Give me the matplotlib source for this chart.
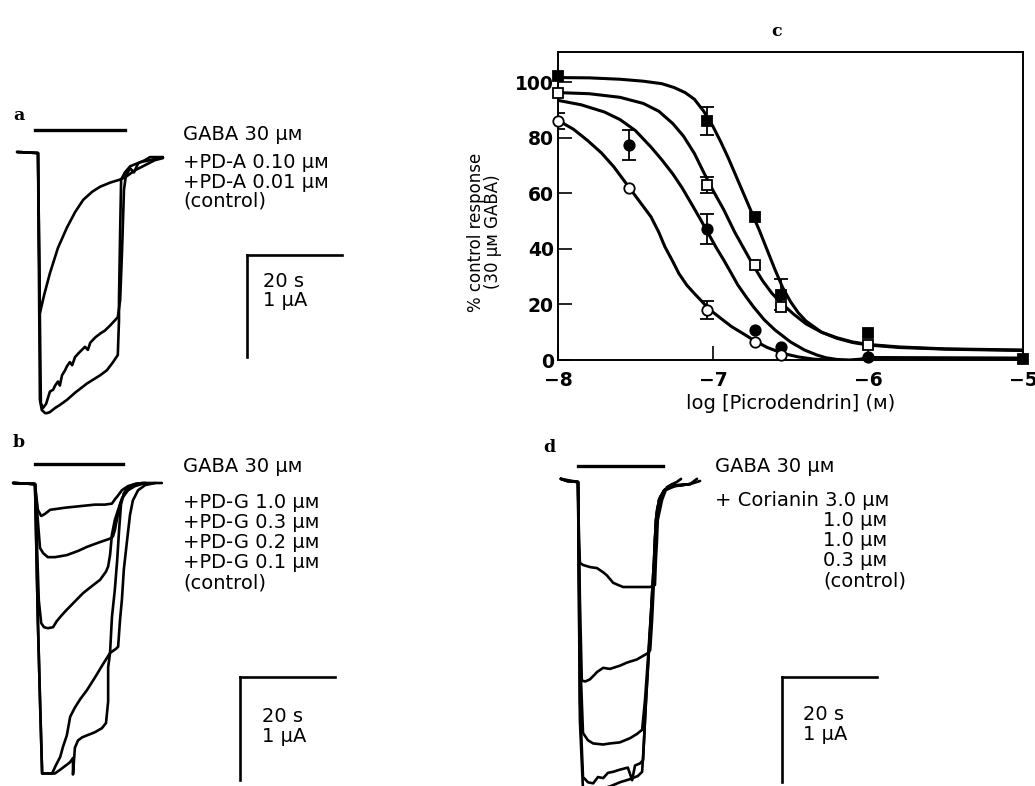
import matplotlib
matplotlib.use('Agg')
import matplotlib.pyplot as plt
import numpy as np

plt.rcParams['font.family'] = ['DejaVu Sans']

W, H = 1035, 786
UM = 'μᴍ'

# ---------------- panel c : dose-response (log M, % control) ----------------
fsq_x = [-8.0, -7.04, -6.73, -6.56, -6.0, -5.0]
fsq_y = [102, 86, 51.5, 23.5, 9.6, 0.3]
fsq_e = [0, 5, 0, 5.5, 0, 0]

osq_x = [-8.0, -7.04, -6.73, -6.56, -6.0]
osq_y = [96, 63, 34, 19, 5.4]
osq_e = [0, 2.8, 0, 0, 0]

fci_x = [-7.54, -7.04, -6.73, -6.56, -6.0]
fci_y = [77.5, 47, 10.7, 4.6, 1.0]
fci_e = [5.4, 5.4, 0, 0, 0]

oci_x = [-8.0, -7.54, -7.04, -6.73, -6.56]
oci_y = [86, 62, 18, 6.6, 1.8]
oci_e = [3, 0, 3.2, 0, 0]

# fitted curves
fit_fsq_x = [-8, -7.8, -7.6, -7.45, -7.33, -7.25, -7.18, -7.12, -7.06, -7.0, -6.95, -6.9, -6.85,
             -6.8, -6.75, -6.7, -6.65, -6.6, -6.55, -6.5, -6.45, -6.4, -6.3, -6.2, -6.1, -6.0,
             -5.8, -5.5, -5.2, -5.0]
fit_fsq_y = [101.6, 101.5, 101.0, 100.3, 99.4, 98.0, 96.2, 93.8, 89.5, 84, 78.5, 72.5, 66,
             59.5, 53, 46.5, 39.5, 32.5, 26, 21, 17, 14, 10, 7.8, 6.3, 5.4,
             4.5, 3.9, 3.6, 3.4]
fit_osq_x = [-8, -7.8, -7.6, -7.45, -7.35, -7.26, -7.19, -7.12, -7.06, -7.0, -6.93, -6.86, -6.8,
             -6.74, -6.68, -6.62, -6.55, -6.48, -6.4, -6.3, -6.2, -6.1, -6.0, -5.8, -5.5, -5.0]
fit_osq_y = [96.2, 95.8, 94.5, 92.3, 89.5, 85.1, 80.5, 74.3, 67.5, 61, 54, 46, 40,
             34, 28.5, 24, 20, 16.5, 13, 10, 8, 6.5, 5.6, 4.7, 4.0, 3.6]
fit_fci_x = [-8, -7.85, -7.7, -7.6, -7.5, -7.4, -7.33, -7.26, -7.2, -7.14, -7.08, -7.03, -6.98,
             -6.93, -6.88, -6.84, -6.79, -6.74, -6.67, -6.6, -6.5, -6.41, -6.33, -6.27, -6.2,
             -6.12, -6.05, -6.0, -5.5, -5.0]
fit_fci_y = [93.4, 91.8, 89.2, 86.5, 82.5, 76.6, 72, 67, 62, 56.3, 50.5, 45.5, 40.5,
             35.9, 31, 27, 23, 19.2, 14.5, 10.8, 6.5, 3.6, 1.8, 0.8, 0.2,
             0, 0.3, 0.9, 0.8, 0.7]
fit_oci_x = [-8, -7.9, -7.81, -7.72, -7.64, -7.56, -7.48, -7.4, -7.35, -7.31, -7.26, -7.22, -7.17,
             -7.12, -7.07, -7.03, -6.95, -6.88, -6.8, -6.74, -6.65, -6.55, -6.45, -6.35, -6.25]
fit_oci_y = [86.2, 83, 79, 74.5, 69.5, 63.5, 57.5, 51.5, 46, 40.7, 35.5, 31.1, 27,
             23.9, 21, 18.5, 15, 12, 9.3, 7.2, 4.5, 2.4, 1.1, 0.3, 0]

# ---------------- panel a : PD-A traces (s, uA) ----------------
a_pd010_t = [-4.4, 0, 0.4, 1.3, 2.5, 4.2, 6.1, 7.8, 9.5, 11.4, 13.1, 15.2, 17.3, 18.3, 20.4, 22.5, 24.6, 26.3]
a_pd010_i = [0, -0.01, -1.58, -1.40, -1.19, -0.94, -0.74, -0.59, -0.47, -0.39, -0.34, -0.30, -0.27,
             -0.25, -0.18, -0.13, -0.08, -0.06]
a_pd001_t = [-4.4, 0, 0.6, 1.05, 1.7, 2.1, 2.5, 3.2, 3.6, 4.2, 4.6, 5.05, 5.7, 6.1, 6.7, 7.2, 7.8,
             8.8, 9.9, 10.5, 11.0, 12.0, 13.1, 14.1, 15.2, 16.2, 16.8, 17.3, 17.7, 18.1, 18.5, 19.4,
             20.2, 21.1, 22.5, 23.6, 26.3]
a_pd001_i = [0, -0.01, -2.46, -2.51, -2.47, -2.41, -2.35, -2.33, -2.29, -2.25, -2.29, -2.19, -2.14,
             -2.10, -2.06, -2.09, -2.01, -1.96, -1.91, -1.94, -1.87, -1.82, -1.78, -1.75, -1.70,
             -1.65, -1.62, -1.45, -0.96, -0.37, -0.23, -0.16, -0.20, -0.11, -0.08, -0.05, -0.05]
a_ctrl_t = [-4.4, 0, 0.4, 0.8, 1.5, 1.9, 2.5, 3.6, 4.6, 6.1, 7.8, 10.3, 13.05, 14.5, 15.8, 16.8,
            17.05, 17.05, 17.3, 17.5, 18.3, 19.4, 21.5, 23.6, 26.3]
a_ctrl_i = [0, -0.01, -2.43, -2.53, -2.56, -2.56, -2.55, -2.51, -2.48, -2.43, -2.36, -2.27, -2.19,
            -2.14, -2.06, -1.99, -1.65, -1.45, -0.76, -0.27, -0.20, -0.14, -0.10, -0.08, -0.05]

# ---------------- panel b : PD-G traces ----------------
b_10_t = [-4.6, 0, 0.6, 1.3, 2.1, 3.2, 4.8, 6.3, 8.4, 10.5, 12.6, 14.7, 16.2, 16.8, 17.5, 18.3,
          19.6, 21.05, 22.7, 26.7]
b_10_i = [0, -0.01, -0.26, -0.32, -0.30, -0.26, -0.25, -0.24, -0.23, -0.22, -0.21, -0.21, -0.20,
          -0.16, -0.12, -0.07, -0.03, -0.01, 0, 0]
b_03_t = [-4.6, 0, 1.05, 1.7, 2.7, 4.2, 6.7, 9.05, 10.95, 13.3, 15.8, 16.4, 16.8, 17.3, 17.9,
          18.7, 20.0, 21.5, 23.2]
b_03_i = [0, -0.01, -0.63, -0.68, -0.72, -0.72, -0.70, -0.66, -0.62, -0.58, -0.54, -0.52, -0.46,
          -0.34, -0.21, -0.11, -0.04, -0.01, 0]
b_02_t = [-4.6, 0, 0.8, 1.3, 1.9, 2.7, 3.8, 4.6, 5.7, 6.7, 8.4, 10.1, 12.0, 13.7, 14.95, 15.4,
          15.8, 16.2, 16.8, 17.5, 18.3, 19.6, 21.05, 23.2]
b_02_i = [0, -0.01, -1.14, -1.36, -1.40, -1.41, -1.40, -1.34, -1.28, -1.23, -1.15, -1.07, -1.00,
          -0.94, -0.86, -0.81, -0.70, -0.50, -0.36, -0.26, -0.15, -0.07, -0.03, 0]
b_01_t = [-4.6, 0, 0.6, 1.05, 1.5, 3.6, 4.4, 5.3, 5.9, 6.7, 7.4, 8.4, 9.5, 10.95, 12.6, 14.3,
          15.8, 17.05, 17.5, 17.9, 18.3, 18.7, 19.4, 20.0, 20.6, 21.7, 23.2, 25.3]
b_01_i = [0, -0.01, -1.33, -2.10, -2.82, -2.82, -2.74, -2.66, -2.56, -2.45, -2.27, -2.18, -2.10,
          -2.01, -1.89, -1.76, -1.65, -1.61, -1.59, -1.33, -1.13, -0.84, -0.55, -0.31, -0.17,
          -0.07, -0.02, 0]
b_ctrl_t = [-4.6, 0, 0.6, 1.05, 1.5, 4.2, 5.7, 7.4, 8.0, 8.0, 8.4, 9.05, 9.9, 10.95, 12.6, 14.1,
            14.95, 15.4, 15.4, 15.8, 16.2, 16.8, 17.3, 17.7, 18.1, 18.7, 19.6, 21.05, 22.7]
b_ctrl_i = [0, -0.01, -1.33, -2.10, -2.82, -2.82, -2.77, -2.71, -2.67, -2.83, -2.57, -2.50, -2.47,
            -2.45, -2.42, -2.38, -2.33, -2.12, -1.79, -1.65, -1.30, -1.04, -0.75, -0.46, -0.21,
            -0.10, -0.04, -0.01, 0]

# ---------------- panel d : corianin traces ----------------
d_30_t = [-3.6, -2.3, 0, 0.2, 0.4, 1.05, 2.5, 4.0, 5.3, 6.1, 7.4, 8.4, 9.5, 12.0, 15.2, 16.2,
          16.4, 16.6, 16.8, 17.7, 18.7, 19.8, 20.8, 21.7]
d_30_i = [0.03, 0.01, 0, -0.55, -0.77, -0.79, -0.81, -0.82, -0.86, -0.89, -0.96, -0.98, -1.0,
          -1.0, -1.0, -0.98, -0.74, -0.58, -0.36, -0.17, -0.05, -0.02, 0, 0.03]
d_10a_t = [-3.6, -2.3, 0, 0.4, 0.8, 1.5, 2.5, 3.6, 4.0, 5.3, 6.7, 8.8, 10.3, 12.4, 14.7, 15.2,
           15.6, 16.0, 16.2, 16.6, 17.3, 18.3, 20.4, 23.6, 25.7]
d_10a_i = [0.03, 0.01, 0, -1.12, -1.89, -1.90, -1.88, -1.83, -1.81, -1.77, -1.78, -1.75, -1.72,
           -1.69, -1.63, -1.60, -1.31, -0.93, -0.55, -0.27, -0.14, -0.08, -0.04, -0.02, 0.01]
d_10b_t = [-3.6, -2.3, 0, 0.4, 1.05, 2.1, 3.2, 5.3, 6.7, 8.8, 10.95, 12.4, 13.5, 14.1, 14.7,
           15.4, 16.0, 16.4, 17.05, 18.1, 19.8, 23.6, 25.05]
d_10b_i = [0.03, 0.01, 0, -1.60, -2.39, -2.46, -2.49, -2.50, -2.49, -2.48, -2.44, -2.40, -2.36,
           -2.08, -1.70, -1.22, -0.74, -0.36, -0.17, -0.08, -0.04, -0.02, 0.03]
d_03_t = [-3.6, -2.3, 0, 0.4, 1.05, 2.1, 3.2, 4.2, 5.3, 6.3, 7.4, 8.8, 10.5, 11.4, 12.0, 13.05,
          13.7, 14.1, 14.7, 15.4, 16.0, 16.4, 17.05, 18.1, 19.8, 23.6]
d_03_i = [0.03, 0.01, 0, -2.08, -2.81, -2.86, -2.87, -2.81, -2.82, -2.77, -2.76, -2.74, -2.72,
          -2.84, -2.70, -2.68, -2.65, -2.27, -1.79, -1.22, -0.74, -0.36, -0.17, -0.08, -0.04, -0.02]
d_ctrl_t = [-3.6, 0, 0.4, 1.05, 2.5, 4.6, 6.7, 8.8, 10.95, 12.6, 13.5, 13.9, 14.3, 14.95, 15.6,
            16.2, 16.6, 17.3, 18.3, 20.4, 23.6]
d_ctrl_i = [0.03, 0, -2.27, -2.93, -2.95, -2.92, -2.90, -2.86, -2.83, -2.80, -2.76, -2.46, -2.08,
            -1.60, -1.12, -0.65, -0.31, -0.15, -0.07, -0.03, -0.02]

fig = plt.figure(figsize=(W / 100, H / 100), dpi=100)


def px_axes(left, top, right, bottom):
    return fig.add_axes([left / W, 1 - bottom / H, (right - left) / W, (bottom - top) / H])


def px_text(x, y, s, **kw):
    kw.setdefault('va', 'center')
    kw.setdefault('ha', 'left')
    kw.setdefault('fontsize', 14)
    fig.text(x / W, 1 - y / H, s, **kw)


def trace_axes(left, top, right, bottom, x0, y0, sx, sy):
    # pixel box -> time (s) / current (uA) axes
    ax = px_axes(left, top, right, bottom)
    ax.set_xlim((left - x0) / sx, (right - x0) / sx)
    ax.set_ylim((y0 - bottom) / sy, (y0 - top) / sy)
    ax.axis('off')
    return ax


def draw_panel(ax, traces, bar, scale):
    for t, i in traces:
        ax.plot(t, i, color='black', lw=1.9, solid_joinstyle='round', solid_capstyle='round')
    ax.plot(bar[:2], [bar[2], bar[2]], color='black', lw=2.4)
    sx, sy = scale
    ax.plot([sx, sx + 20], [sy, sy], color='black', lw=1.9)
    ax.plot([sx, sx], [sy, sy - 1], color='black', lw=1.9)


def letter(x, y, s):
    px_text(x, y, s, fontweight='bold', family='DejaVu Serif', fontsize=12.5)


# panel a
ax_a = trace_axes(0, 105, 370, 430, 38, 152, 4.75, 102)
draw_panel(ax_a, [(a_pd010_t, a_pd010_i), (a_pd001_t, a_pd001_i), (a_ctrl_t, a_ctrl_i)],
           (-0.6, 18.3, 0.22), (44.0, -1.01))
letter(13, 115, 'a')
px_text(183, 134, 'GABA 30 ' + UM)
px_text(183, 162, '+PD-A 0.10 ' + UM)
px_text(183, 182, '+PD-A 0.01 ' + UM)
px_text(183, 201, '(control)')
px_text(263, 281, '20 s')
px_text(263, 300, '1 μA')

# panel b
ax_b = trace_axes(0, 450, 370, 786, 35, 483, 4.75, 103)
draw_panel(ax_b, [(b_10_t, b_10_i), (b_03_t, b_03_i), (b_02_t, b_02_i), (b_01_t, b_01_i),
                  (b_ctrl_t, b_ctrl_i)],
           (0, 18.5, 0.18), (43.2, -1.88))
letter(13, 443, 'b')
px_text(183, 467, 'GABA 30 ' + UM)
px_text(183, 502, '+PD-G 1.0 ' + UM)
px_text(183, 522, '+PD-G 0.3 ' + UM)
px_text(183, 542, '+PD-G 0.2 ' + UM)
px_text(183, 562, '+PD-G 0.1 ' + UM)
px_text(183, 583, '(control)')
px_text(262, 717, '20 s')
px_text(262, 737, '1 μA')

# panel d
ax_d = trace_axes(540, 450, 900, 786, 578, 482, 4.75, 105)
draw_panel(ax_d, [(d_30_t, d_30_i), (d_10a_t, d_10a_i), (d_10b_t, d_10b_i), (d_03_t, d_03_i),
                  (d_ctrl_t, d_ctrl_i)],
           (0, 17.9, 0.15), (42.9, -1.86))
letter(543, 447, 'd')
px_text(715, 467, 'GABA 30 ' + UM)
px_text(715, 500, '+ Corianin 3.0 ' + UM)
px_text(823, 520, '1.0 ' + UM)
px_text(823, 540, '1.0 ' + UM)
px_text(823, 560, '0.3 ' + UM)
px_text(823, 581, '(control)')
px_text(803, 714, '20 s')
px_text(803, 734, '1 μA')

# panel c
ax_c = px_axes(558, 52, 1023, 360)
lw_c = 2.2
for fx, fy in [(fit_fsq_x, fit_fsq_y), (fit_osq_x, fit_osq_y),
               (fit_fci_x, fit_fci_y), (fit_oci_x, fit_oci_y)]:
    ax_c.plot(fx, fy, color='black', lw=lw_c, zorder=2, solid_joinstyle='round')

series = [
    (fsq_x, fsq_y, fsq_e, 's', 'black'),
    (osq_x, osq_y, osq_e, 's', 'white'),
    (fci_x, fci_y, fci_e, 'o', 'black'),
    (oci_x, oci_y, oci_e, 'o', 'white'),
]
for x, y, e, m, fc in series:
    x = np.array(x); y = np.array(y); e = np.array(e)
    sel = e > 0
    ax_c.errorbar(x[sel], y[sel], yerr=e[sel], fmt='none', ecolor='black', elinewidth=1.3,
                  capsize=5, capthick=1.3, zorder=3)
    ax_c.plot(x, y, m, ms=7.5, mfc=fc, mec='black', mew=1.3, zorder=4, clip_on=False)

ax_c.set_xlim(-8, -5)
ax_c.set_ylim(0, 110.8)
ax_c.set_xticks([-8, -7, -6, -5])
ax_c.set_xticklabels(['−8', '−7', '−6', '−5'])
ax_c.set_yticks([0, 20, 40, 60, 80, 100])
ax_c.tick_params(direction='in', length=10, width=1.2, labelsize=13.5)
ax_c.tick_params(axis='y', pad=3)
ax_c.tick_params(axis='x', pad=8)
for lab in ax_c.get_xticklabels() + ax_c.get_yticklabels():
    lab.set_fontweight('bold')
for sp in ax_c.spines.values():
    sp.set_linewidth(1.4)
ax_c.set_ylabel('% control response\n(30 ' + UM + ' GABA)', fontsize=12, linespacing=0.95)
ax_c.yaxis.set_label_coords(-0.12, 0.415)
ax_c.set_xlabel('log [Picrodendrin] (ᴍ)', fontsize=14, labelpad=3)
letter(771, 32, 'c')

fig.savefig('out.png', dpi=100)
